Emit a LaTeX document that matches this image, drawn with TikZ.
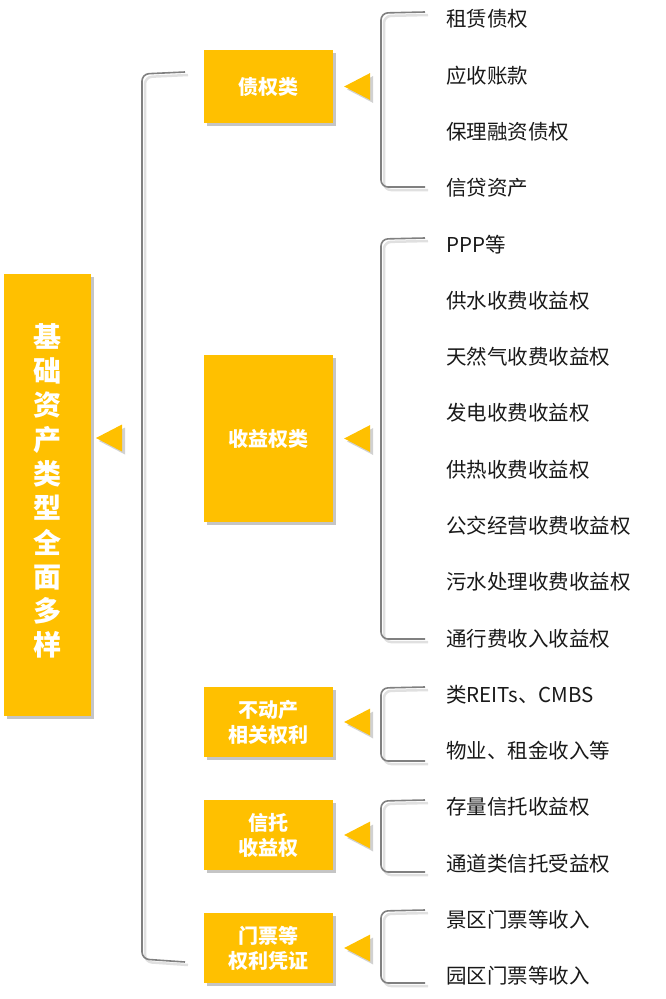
\documentclass[tikz,border=0pt]{standalone}
\usepackage{fontspec}
\setmainfont{Noto Sans CJK SC}
\usetikzlibrary{calc,shadows}
\definecolor{gold}{HTML}{FFC000}
\definecolor{brk}{HTML}{808080}
\tikzset{
  catbox/.style={fill=gold, minimum width=129pt, text=white, font=\fontsize{20}{25}\selectfont\bfseries, align=center, inner sep=0pt,
    drop shadow={shadow xshift=3pt, shadow yshift=-3pt, fill=black!45, opacity=0.5}},
  mainbox/.style={fill=gold, minimum width=87pt, minimum height=442pt, inner sep=0pt,
    drop shadow={shadow xshift=3pt, shadow yshift=-3pt, fill=black!45, opacity=0.5}},
  item/.style={anchor=west, font=\fontsize{20.5}{22}\selectfont, inner sep=0pt, text=black!90},
  tri/.style={fill=gold},
  trishadow/.style={fill=black!40, opacity=0.45},
  bracketline/.style={draw=brk, line width=1.6pt, rounded corners=7pt},
  bracketshadow/.style={draw=black!12, line width=2.5pt, rounded corners=7pt},
}
\newcommand{\tri}[1]{%
  \fill[trishadow] ($(#1.east)+(14,3)$) -- ++(26,13.5) -- ++(0,-27) -- cycle;
  \fill[tri] ($(#1.east)+(11,0)$) -- ++(26,13.5) -- ++(0,-27) -- cycle;}
\newcommand{\brkt}[3]{%
  \draw[bracketshadow] ($(#1)+(3,3)$) -- ($(#2)+(3,3)$) -- ($(#3)+(3,3)$) -- ($(#3)+(47,3)$);
  \draw[bracketline] (#1) -- (#2) -- (#3) -- ($(#3)+(44,0)$);}
\begin{document}
\begin{tikzpicture}[x=1pt,y=-1pt]
\useasboundingbox (0,0) rectangle (666,999);
% main box
\node[mainbox] (main) at (47.5,495) {};
\node[text=white, font=\fontsize{28}{34.3}\selectfont\bfseries, align=center, inner sep=0pt] (mainlabel) at (47.5,491)
  {基\\础\\资\\产\\类\\型\\全\\面\\多\\样};
% categories
\node[catbox, minimum height=73pt] (c1) at (268.5,86.5) {债权类};
\node[catbox, minimum height=167pt] (c2) at (268.5,438.5) {收益权类};
\node[catbox, minimum height=70pt] (c3) at (268.5,722) {不动产\\相关权利};
\node[catbox, minimum height=70pt] (c4) at (268.5,835) {信托\\收益权};
\node[catbox, minimum height=70pt] (c5) at (268.5,948) {门票等\\权利凭证};
% triangles
\fill[trishadow] (99,441) -- ++(26,13.5) -- ++(0,-27) -- cycle;
\fill[tri] (96,438) -- ++(26,13.5) -- ++(0,-27) -- cycle;
\tri{c1}\tri{c2}\tri{c3}\tri{c4}\tri{c5}
% big bracket
\coordinate (bA) at (185,72);
\coordinate (bB) at (142,74);
\coordinate (bC) at (142,959);
\draw[bracketshadow] ($(bA)+(3,3)$) -- ($(bB)+(3,3)$) -- ($(bC)+(3,3)$) -- ($(bC)+(46,6)$);
\draw[bracketline] (bA) -- (bB) -- (bC) -- ($(bC)+(43,3)$);
% items
\foreach \t [count=\i from 0] in {租赁债权,应收账款,保理融资债权,信贷资产,PPP等,供水收费收益权,天然气收费收益权,发电收费收益权,供热收费收益权,公交经营收费收益权,污水处理收费收益权,通行费收入收益权,类REITs、CMBS,物业、租金收入等,存量信托收益权,通道类信托受益权,景区门票等收入,园区门票等收入}
  \node[item] (i\i) at (446,{19+56.3*\i}) {\t};
% small brackets
\coordinate (s1a) at (425,12); \coordinate (s1b) at (381,13); \coordinate (s1c) at (381,187);
\brkt{s1a}{s1b}{s1c}
\coordinate (s2a) at (425,238); \coordinate (s2b) at (381,239); \coordinate (s2c) at (381,639);
\brkt{s2a}{s2b}{s2c}
\coordinate (s3a) at (425,687); \coordinate (s3b) at (381,688); \coordinate (s3c) at (381,761);
\brkt{s3a}{s3b}{s3c}
\coordinate (s4a) at (425,800); \coordinate (s4b) at (381,801); \coordinate (s4c) at (381,872);
\brkt{s4a}{s4b}{s4c}
\coordinate (s5a) at (425,910); \coordinate (s5b) at (381,911); \coordinate (s5c) at (381,983);
\brkt{s5a}{s5b}{s5c}
\end{tikzpicture}
\end{document}
